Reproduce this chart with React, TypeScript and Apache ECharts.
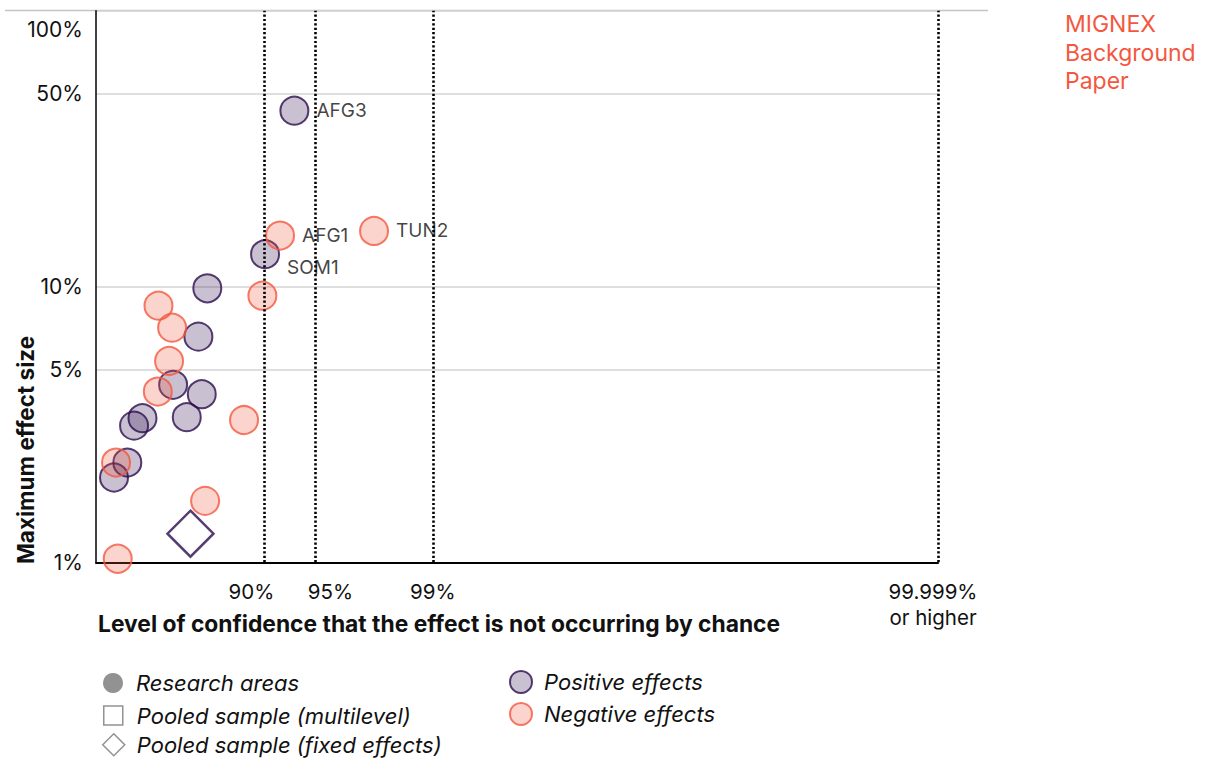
import React, { useEffect, useRef } from 'react';
import * as echarts from 'echarts';

// ---- Data ----
// x axis: confidence level shown as -log10(p); y axis: maximum effect size (%), log scale
const confidenceLevels = [0.9, 0.95, 0.99, 0.99999];
const xTickLabels = ['90%', '95%', '99%', '99.999%\nor higher'];
const yTickValues = [1, 5, 10, 50, 100];

const positiveScore = [1.178, 1.004, 0.661, 0.608, 0.458, 0.628, 0.539, 0.276, 0.226, 0.186, 0.107];
const positiveEffect = [43.4, 13.1, 9.85, 6.58, 4.4, 4.07, 3.36, 3.33, 3.13, 2.3, 2.03];
const positiveNames = ['AFG3', 'SOM1', '', '', '', '', '', '', '', '', ''];

const negativeScore = [1.093, 1.651, 0.988, 0.371, 0.452, 0.434, 0.367, 0.879, 0.119, 0.648, 0.129];
const negativeEffect = [15.3, 15.9, 9.26, 8.52, 7.09, 5.37, 4.16, 3.28, 2.3, 1.67, 1.03];
const negativeNames = ['AFG1', 'TUN2', '', '', '', '', '', '', '', '', ''];

const pooledFixedScore = [0.561];
const pooledFixedEffect = [1.27];

const legendLeft = ['Research areas', 'Pooled sample (multilevel)', 'Pooled sample (fixed effects)'];
const legendRight = ['Positive effects', 'Negative effects'];

// ---- Style ----
const FONT = 'Inter';
const PURPLE = '#2b0c4c';
const PURPLE_FILL = 'rgba(43,12,76,0.32)';
const RED = '#f4573f';
const RED_FILL = 'rgba(244,87,63,0.32)';
const GREY = '#777777';
const TEXT = '#111111';

const score = (c: number) => -Math.log10(1 - c);
const xTicks = confidenceLevels.map(score);
const yTicks = yTickValues.map((v) => Math.log10(v));

function pointData(xs: number[], ys: number[], names: string[]) {
  return xs.map((x, i) => {
    const item: any = { value: [x, Math.log10(ys[i])], name: names[i] || '' };
    if (names[i]) {
      item.label = {
        show: true,
        position: 'right',
        distance: 7,
        formatter: '{b}',
        fontFamily: FONT,
        fontSize: 19,
        color: TEXT,
        backgroundColor: '#ffffff',
        offset: names[i] === 'SOM1' ? [0, 13] : [0, 0],
      };
    }
    return item;
  });
}

// horizontal nudges of the confidence labels (left/right padding)
const xLabelPad = [
  [0, 26, 0, 0],
  [0, 0, 0, 31],
  [0, 0, 0, 0],
  [0, 10, 0, 0],
];

const legendIcons: Record<string, any> = {
  [legendLeft[0]]: { icon: 'circle', itemStyle: { color: GREY, borderWidth: 0 } },
  [legendLeft[1]]: { icon: 'rect', itemStyle: { color: '#fff', borderColor: GREY, borderWidth: 1.5 } },
  [legendLeft[2]]: { icon: 'diamond', itemStyle: { color: '#fff', borderColor: GREY, borderWidth: 1.5 } },
  [legendRight[0]]: { icon: 'circle', itemStyle: { color: PURPLE_FILL, borderColor: PURPLE, borderWidth: 2 } },
  [legendRight[1]]: { icon: 'circle', itemStyle: { color: RED_FILL, borderColor: RED, borderWidth: 2 } },
};

// legend layout: [name, left, centerY, iconSize, textGap]
const legendLayout: Array<[string, number, number, number, number]> = [
  [legendLeft[0], 103, 682, 20, 8],
  [legendLeft[1], 103, 714, 19, 9],
  [legendLeft[2], 102, 744, 22, 7],
  [legendRight[0], 509, 681, 22, 7],
  [legendRight[1], 509, 713, 22, 7],
];

export default function App() {
  const ref = useRef<HTMLDivElement>(null);

  useEffect(() => {
    if (!ref.current) return;
    const chart = echarts.init(ref.current, undefined, { renderer: 'svg' });

    const legends = legendLayout.map(([name, left, cy, size, gap]) => ({
      left,
      top: cy - size / 2,
      height: 40,
      padding: 0,
      orient: 'vertical',
      itemWidth: size,
      itemHeight: size,
      selectedMode: false,
      textStyle: { fontFamily: FONT, fontSize: 22, fontStyle: 'italic', color: TEXT, padding: [0, 0, 0, gap] },
      data: [{ name, ...legendIcons[name] }],
    }));

    const option: any = {
      animation: false,
      backgroundColor: '#ffffff',
      title: {
        text: 'MIGNEX\nBackground\nPaper',
        left: 1065,
        top: 10,
        padding: 0,
        textStyle: { fontFamily: FONT, fontSize: 23, fontWeight: 'normal', color: RED, lineHeight: 28.5 },
      },
      grid: { left: 96, top: 10.7, width: 842, height: 551.6, containLabel: false, outerBoundsMode: 'none' },
      xAxis: {
        type: 'value',
        min: 0,
        max: 5,
        axisLine: { show: true, lineStyle: { color: '#000', width: 2 } },
        axisTick: { show: false },
        splitLine: { show: false },
        axisLabel: { show: false },
      },
      yAxis: {
        type: 'value',
        min: 0,
        max: 2,
        axisLine: { show: true, lineStyle: { color: '#000', width: 1.5 } },
        axisTick: { show: false, customValues: yTicks },
        splitLine: { show: true, lineStyle: { color: '#d4d4d4', width: 1.5 } },
        axisLabel: {
          customValues: yTicks,
          margin: 13,
          hideOverlap: false,
          showMinLabel: true,
          showMaxLabel: true,
          formatter: (v: number) => {
            const val = Math.round(Math.pow(10, v));
            return val === 100 ? `{top|${val}%}` : `{n|${val}%}`;
          },
          rich: {
            n: { fontFamily: FONT, fontSize: 21, color: TEXT },
            top: { fontFamily: FONT, fontSize: 21, color: TEXT, padding: [37, 0, 0, 0] },
          },
        },
      },
      legend: legends,
      graphic: [
        {
          type: 'line',
          shape: { x1: 5, y1: 10.5, x2: 988, y2: 10.5 },
          style: { stroke: '#c4c4c4', lineWidth: 1.5 },
          z: 0,
        },
        {
          type: 'text',
          x: 25,
          y: 450,
          rotation: Math.PI / 2,
          style: {
            text: 'Maximum effect size',
            align: 'center',
            verticalAlign: 'middle',
            fontFamily: FONT,
            fontSize: 22.5,
            fontWeight: 'bold',
            fill: TEXT,
          },
        },
        {
          type: 'text',
          x: 98,
          y: 623,
          style: {
            text: 'Level of confidence that the effect is not occurring by chance',
            align: 'left',
            verticalAlign: 'middle',
            fontFamily: FONT,
            fontSize: 22.8,
            fontWeight: 'bold',
            fill: TEXT,
          },
        },
      ],
      series: [
        {
          name: legendLeft[0],
          type: 'scatter',
          data: [],
          itemStyle: { color: GREY },
        },
        {
          name: legendLeft[1],
          type: 'scatter',
          symbol: 'rect',
          data: [],
          itemStyle: { color: '#fff', borderColor: GREY },
        },
        {
          name: legendLeft[2],
          type: 'scatter',
          symbol: 'diamond',
          symbolSize: 46,
          data: pooledFixedScore.map((x, i) => [x, Math.log10(pooledFixedEffect[i])]),
          itemStyle: { color: 'rgba(255,255,255,0)', borderColor: PURPLE, borderWidth: 2.5 },
        },
        {
          name: legendRight[0],
          type: 'scatter',
          symbol: 'circle',
          symbolSize: 28,
          data: pointData(positiveScore, positiveEffect, positiveNames),
          itemStyle: { color: PURPLE_FILL, borderColor: PURPLE, borderWidth: 2 },
          markLine: {
            silent: true,
            symbol: ['none', 'none'],
            lineStyle: { color: '#000', width: 2.6, type: [2.2, 2.2] },
            data: xTicks.map((x, i) => ({
              xAxis: x,
              label: {
                show: true,
                position: 'start',
                distance: 16,
                formatter: xTickLabels[i],
                fontFamily: FONT,
                fontSize: 20.5,
                lineHeight: 26,
                color: TEXT,
                padding: xLabelPad[i],
              },
            })),
          },
        },
        {
          name: legendRight[1],
          type: 'scatter',
          symbol: 'circle',
          symbolSize: 28,
          data: pointData(negativeScore, negativeEffect, negativeNames),
          itemStyle: { color: RED_FILL, borderColor: RED, borderWidth: 2 },
        },
      ],
    };

    chart.setOption(option);
    return () => chart.dispose();
  }, []);

  return <div ref={ref} style={{ position: 'fixed', left: 0, top: 0, width: 1207, height: 758 }} />;
}
